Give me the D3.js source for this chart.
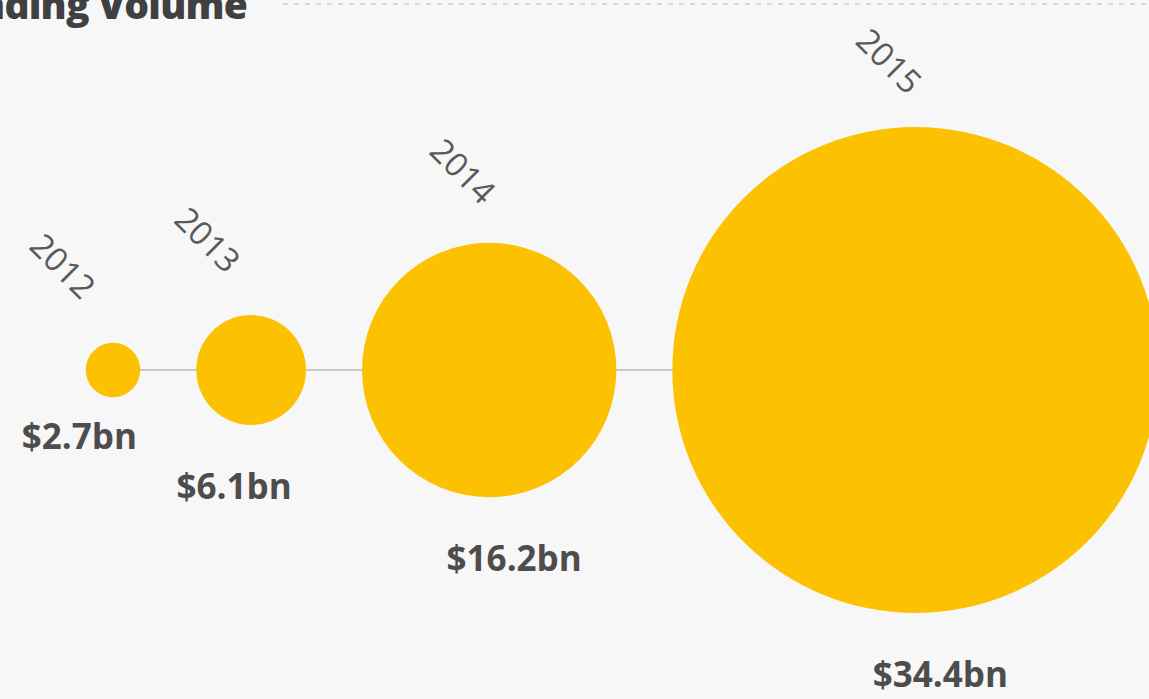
<!DOCTYPE html>
<html>
<head>
<meta charset="utf-8">
<script src="https://cdn.jsdelivr.net/npm/d3@7"></script>
<style>
  body { margin: 0; background: #f7f7f7; overflow: hidden; }
  svg { display: block; }
  .year { font-family: "Open Sans", sans-serif; font-weight: 400; fill: #5a5a5a; }
  .value { font-family: "Open Sans", sans-serif; font-weight: 700; fill: #4d4d4d; }
  .title { font-family: "Open Sans", sans-serif; font-weight: 800; fill: #404040; }
</style>
</head>
<body>
<div id="graph"></div>
<script>
// crowdfunding volume per year, US$ bn
let years = ["2012", "2013", "2014", "2015"];
let volumes = [2.7, 6.1, 16.2, 34.4];
let valueLabels = ["$2.7bn", "$6.1bn", "$16.2bn", "$34.4bn"];

function graph() {

  let w = 1149;
  let h = 699;
  let cy = 370;
  let gap = 56;
  let firstX = 113;

  const svg = d3.select("#graph")
                .append("svg")
                .attr("width", w)
                .attr("height", h);

  svg.append("rect")
     .attr("width", w)
     .attr("height", h)
     .attr("fill", "#f7f7f7");

  // title, cut off by the crop at the top
  svg.append("text")
     .attr("class", "title")
     .attr("text-anchor", "end")
     .attr("x", 247)
     .attr("y", 19)
     .style("font-size", "39px")
     .style("letter-spacing", "-0.8px")
     .text("Crowdfunding Volume");

  svg.append("line")
     .attr("x1", 283).attr("x2", w)
     .attr("y1", 4).attr("y2", 4)
     .attr("stroke", "#cfcfcf")
     .attr("stroke-width", 1.5)
     .attr("stroke-dasharray", "5,6");

  const rScale = d3.scalePow()
                   .exponent(0.86)
                   .domain([0, d3.max(volumes)])
                   .range([0, 243]);

  // circles sit side by side with a fixed gap
  let xs = [];
  volumes.forEach((v, i) => {
    if (i == 0) xs.push(firstX);
    else xs.push(xs[i - 1] + rScale(volumes[i - 1]) + gap + rScale(v));
  });

  let data = years.map((y, i) => ({
    year: y,
    value: volumes[i],
    label: valueLabels[i],
    x: xs[i],
    r: rScale(volumes[i])
  }));

  svg.append("line")
     .attr("x1", data[0].x)
     .attr("x2", data[data.length - 1].x)
     .attr("y1", cy).attr("y2", cy)
     .attr("stroke", "#c8c8c8")
     .attr("stroke-width", 2);

  svg.selectAll("circle")
     .data(data)
     .enter()
     .append("circle")
     .attr("cx", d => d.x)
     .attr("cy", cy)
     .attr("r", d => d.r)
     .attr("fill", "#fcc100");

  // year labels, slanted, above each circle (pushed further left on small ones)
  svg.selectAll(".year")
     .data(data)
     .enter()
     .append("text")
     .attr("class", "year")
     .attr("text-anchor", "end")
     .style("font-size", "33px")
     .attr("transform", d => {
       let tx = d.x - 8 - Math.max(0, 127 - d.r) * 0.24;
       let ty = cy - d.r - 38 + (d.r - 100) * 0.05;
       return "translate(" + tx + "," + ty + ") rotate(45)";
     })
     .text(d => d.year);

  // value labels below, small circles keep theirs closer and to the left
  svg.selectAll(".value")
     .data(data)
     .enter()
     .append("text")
     .attr("class", "value")
     .attr("text-anchor", "middle")
     .style("font-size", "35px")
     .attr("x", d => d.x + Math.min(25, d.r * 0.6 - 50))
     .attr("y", d => cy + d.r + Math.min(74, d.r * 1.9))
     .text(d => d.label);

} //end of graph func

graph();
</script>
</body>
</html>
